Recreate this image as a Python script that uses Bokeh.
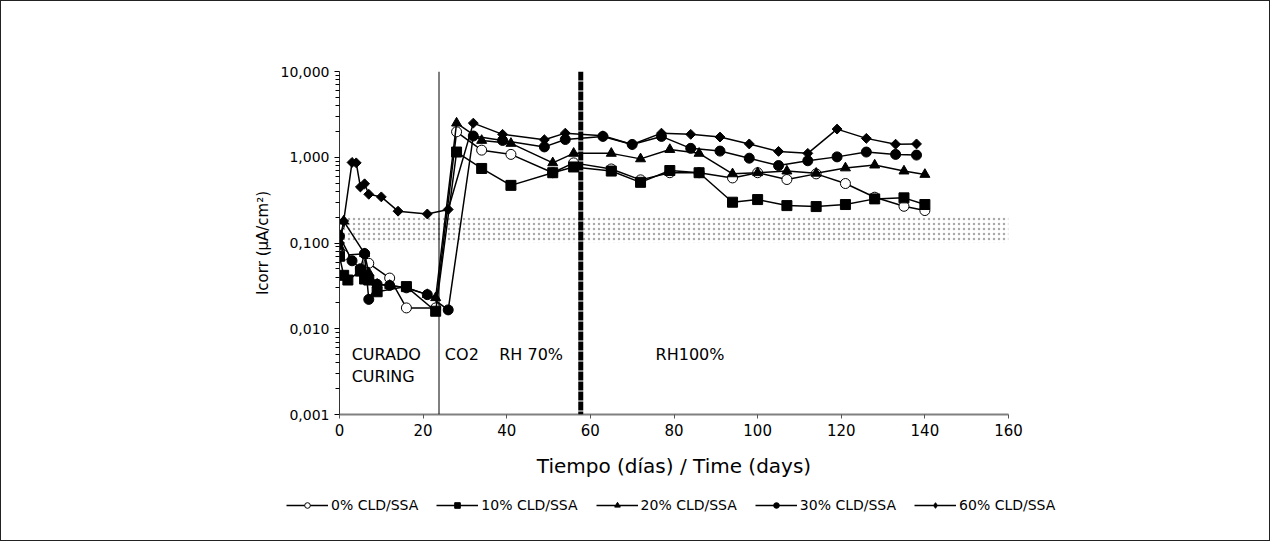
import math
from bokeh.plotting import figure
from bokeh.models import Range1d, FixedTicker, Span, Label, Legend, LegendItem, BoxAnnotation
from bokeh.embed import file_html
from bokeh.resources import INLINE

FONT = "DejaVu Sans"

# ---- data (days, Icorr in uA/cm2) ----
days_0 = [0, 1, 6, 7, 12, 16, 23, 28, 34, 41, 51, 56, 65, 72, 79, 86, 94, 100, 107, 114, 121, 128, 135, 140]
icorr_0 = [0.16, 0.072, 0.075, 0.058, 0.039, 0.0175, 0.0175, 1.98, 1.21, 1.08, 0.66, 0.86, 0.73, 0.545, 0.66, 0.66,
           0.574, 0.66, 0.55, 0.64, 0.494, 0.342, 0.268, 0.239]

days_10 = [0, 1, 2, 5, 6, 7, 9, 16, 23, 28, 34, 41, 51, 56, 65, 72, 79, 86, 94, 100, 107, 114, 121, 128, 135, 140]
icorr_10 = [0.07, 0.042, 0.037, 0.047, 0.038, 0.037, 0.027, 0.031, 0.016, 1.15, 0.74, 0.47, 0.66, 0.77, 0.69, 0.51,
            0.70, 0.66, 0.299, 0.321, 0.273, 0.266, 0.281, 0.327, 0.336, 0.281]

days_20 = [0, 1, 6, 7, 9, 12, 16, 21, 23, 28, 34, 41, 51, 56, 65, 72, 79, 86, 94, 100, 107, 114, 121, 128, 135, 140]
icorr_20 = [0.09, 0.18, 0.075, 0.045, 0.033, 0.032, 0.03, 0.025, 0.023, 2.5, 1.57, 1.45, 0.86, 1.11, 1.11, 0.957,
            1.23, 1.11, 0.64, 0.66, 0.69, 0.65, 0.75, 0.81, 0.69, 0.63]

days_30 = [0, 3, 5, 6, 7, 9, 12, 16, 21, 26, 32, 39, 49, 54, 63, 70, 77, 84, 91, 98, 105, 112, 119, 126, 133, 138]
icorr_30 = [0.12, 0.062, 0.05, 0.075, 0.022, 0.033, 0.032, 0.03, 0.025, 0.0166, 1.77, 1.57, 1.32, 1.61, 1.75, 1.41,
            1.75, 1.27, 1.18, 0.975, 0.80, 0.91, 1.01, 1.15, 1.08, 1.06]

days_60 = [0, 1, 3, 4, 5, 6, 7, 10, 14, 21, 26, 32, 39, 49, 54, 63, 70, 77, 84, 91, 98, 105, 112, 119, 126, 133, 138]
icorr_60 = [0.1, 0.18, 0.87, 0.86, 0.45, 0.49, 0.37, 0.345, 0.235, 0.218, 0.246, 2.5, 1.85, 1.6, 1.91, 1.78, 1.41,
            1.91, 1.85, 1.72, 1.43, 1.17, 1.11, 2.13, 1.66, 1.42, 1.43]

series_labels = ["0% CLD/SSA", "10% CLD/SSA", "20% CLD/SSA", "30% CLD/SSA", "60% CLD/SSA"]

x_ticks = [0, 20, 40, 60, 80, 100, 120, 140, 160]
y_ticks = [0.001, 0.01, 0.1, 1, 10]
y_tick_labels = ["0,001", "0,010", "0,100", "1,000", "10,000"]

band_low, band_high = 0.1, 0.2
curing_end_day = 23.8
rh100_day = 57.7

W = 1270
BORDER = "1px solid #222"

# ---- main figure ----
p = figure(width=W, height=482, y_axis_type="log",
           x_range=Range1d(0, 160), y_range=Range1d(0.001, 10),
           output_backend="svg", toolbar_location=None,
           min_border_left=338, min_border_right=263,
           min_border_top=70, min_border_bottom=69)
p.styles = {"border-top": BORDER, "border-left": BORDER, "border-right": BORDER, "box-sizing": "border-box"}
p.outline_line_color = None
p.grid.visible = False
p.background_fill_color = "white"
p.border_fill_color = "white"

band = BoxAnnotation(bottom=band_low, top=band_high, fill_color=None, line_color=None,
                     hatch_pattern="dot", hatch_color="#aaaaaa", hatch_scale=5, hatch_weight=2,
                     level="underlay")
p.add_layout(band)

p.add_layout(Span(location=curing_end_day, dimension="height", line_color="black", line_width=1))
p.add_layout(Span(location=rh100_day, dimension="height", line_color="black", line_width=5, line_dash="9 1"))

# (days, values, marker, size, fill, angle, legend marker)
styles = [
    (days_0, icorr_0, "circle", 10, "white", 0.0, "circle"),
    (days_10, icorr_10, "square", 10, "black", 0.0, "square"),
    (days_20, icorr_20, "triangle", 10, "black", 0.0, "triangle"),
    (days_30, icorr_30, "circle", 10, "black", 0.0, "circle"),
    (days_60, icorr_60, "square", 7, "black", math.pi / 4, "diamond"),
]
for dx, dy, mk, sz, fc, ang, _ in styles:
    p.line(dx, dy, line_color="black", line_width=1.5)
    p.scatter(dx, dy, marker=mk, size=sz, angle=ang, fill_color=fc, line_color="black", line_width=1)

p.xaxis.ticker = FixedTicker(ticks=x_ticks, minor_ticks=[])
p.xaxis.axis_line_color = "#808080"
p.xaxis.axis_line_width = 2
p.xaxis.major_tick_line_color = "#555"
p.xaxis.major_tick_in = 0
p.xaxis.major_tick_out = 4
p.xaxis.major_label_text_font = FONT
p.xaxis.major_label_text_font_size = "15px"
p.xaxis.major_label_text_color = "black"
p.xaxis.axis_label = "Tiempo (días) / Time (days)"
p.xaxis.axis_label_text_font = FONT
p.xaxis.axis_label_text_font_size = "20px"
p.xaxis.axis_label_text_font_style = "normal"
p.xaxis.axis_label_text_color = "black"
p.xaxis.axis_label_standoff = 15

minor = [k * 10.0 ** e for e in range(-3, 1) for k in range(2, 10)]
p.yaxis.ticker = FixedTicker(ticks=y_ticks, minor_ticks=minor)
p.yaxis.major_label_overrides = dict(zip(y_ticks, y_tick_labels))
p.yaxis.axis_line_color = "#333"
p.yaxis.major_tick_in = 0
p.yaxis.major_tick_out = 5
p.yaxis.minor_tick_in = 0
p.yaxis.minor_tick_out = 4
p.yaxis.major_label_text_font = FONT
p.yaxis.major_label_text_font_size = "14px"
p.yaxis.major_label_text_color = "black"
p.yaxis.axis_label = "Icorr (µA/cm²)"
p.yaxis.axis_label_text_font = FONT
p.yaxis.axis_label_text_font_size = "15px"
p.yaxis.axis_label_text_font_style = "normal"
p.yaxis.axis_label_text_color = "black"
p.yaxis.axis_label_standoff = 6

for x, y, t in [(2.9, 0.005, "CURADO"), (2.9, 0.0028, "CURING"), (25.2, 0.005, "CO2"),
                (38.2, 0.005, "RH 70%"), (75.6, 0.005, "RH100%")]:
    p.add_layout(Label(x=x, y=y, text=t, text_font=FONT, text_font_size="16px",
                       text_baseline="middle", text_color="black"))

# ---- legend strip (series drawn again but outside its visible ranges) ----
lg = figure(width=W, height=59, x_range=Range1d(1000, 1001), y_range=Range1d(1000, 1001),
            x_axis_location=None, y_axis_location=None,
            output_backend="svg", toolbar_location=None, min_border=0)
lg.styles = {"border-bottom": BORDER, "border-left": BORDER, "border-right": BORDER, "box-sizing": "border-box"}
lg.grid.visible = False
lg.outline_line_color = None
items = []
for (dx, dy, mk, sz, fc, ang, lmk), lab in zip(styles, series_labels):
    lr = lg.line(dx, dy, line_color="black", line_width=1.5)
    sr = lg.scatter(dx, dy, marker=lmk, size=8 if lmk != "diamond" else 10, fill_color=fc,
                    line_color="black", line_width=1)
    items.append(LegendItem(label=lab, renderers=[lr, sr]))
legend = Legend(items=items, orientation="horizontal", location=(285, 28),
                label_text_font=FONT, label_text_font_size="14px", label_text_color="black",
                glyph_width=42, glyph_height=14, label_standoff=3, spacing=18,
                border_line_color=None, background_fill_alpha=0, margin=0, padding=4)
lg.add_layout(legend)

open("out.html", "w").write(file_html([p, lg], INLINE))
